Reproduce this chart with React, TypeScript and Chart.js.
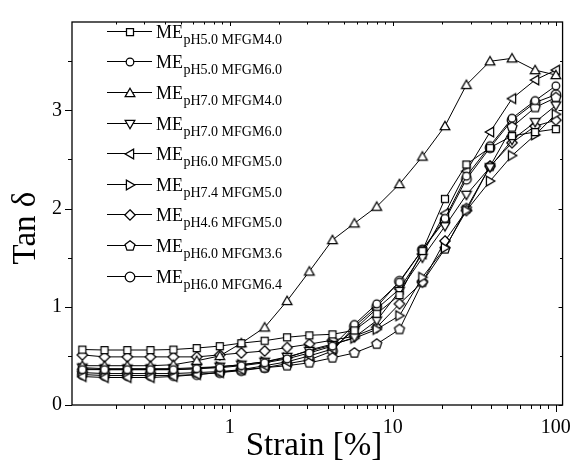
import React, { useEffect, useRef } from 'react';
import { Chart, registerables } from 'chart.js';
Chart.register(...registerables);

document.body.style.margin = '0';

// ---------- data ----------
const strain = [0.125, 0.171, 0.236, 0.327, 0.452, 0.628, 0.87, 1.18, 1.64, 2.25, 3.08, 4.27, 5.82, 7.98, 11.0, 15.2, 20.9, 28.3, 39.5, 53.9, 74.7, 100];

const phLabels = ['5.0', '5.0', '7.0', '7.0', '6.0', '7.4', '4.6', '6.0', '6.0'];
const mfgmLabels = ['4.0', '6.0', '4.0', '6.0', '5.0', '5.0', '5.0', '3.6', '6.4'];
const markerKinds = ['square', 'circle', 'triUp', 'triDown', 'triLeft', 'triRight', 'diamond', 'pentagon', 'circleBig'];

const pH50_MFGM40 = [0.565, 0.56, 0.56, 0.56, 0.565, 0.58, 0.60, 0.63, 0.655, 0.69, 0.71, 0.72, 0.76, 0.93, 1.12, 1.57, 2.10, 2.45, 2.62, 2.74, 2.78, 2.81];
const pH50_MFGM60 = [0.36, 0.36, 0.36, 0.36, 0.36, 0.37, 0.38, 0.40, 0.43, 0.47, 0.53, 0.60, 0.82, 1.03, 1.25, 1.58, 1.90, 2.33, 2.64, 2.92, 3.10, 3.25];
const pH70_MFGM40 = [0.40, 0.40, 0.40, 0.40, 0.41, 0.45, 0.50, 0.63, 0.79, 1.06, 1.36, 1.68, 1.85, 2.02, 2.25, 2.53, 2.84, 3.26, 3.50, 3.53, 3.41, 3.36];
const pH70_MFGM60 = [0.38, 0.37, 0.37, 0.37, 0.37, 0.38, 0.39, 0.41, 0.44, 0.49, 0.55, 0.61, 0.69, 0.86, 1.16, 1.50, 1.82, 2.14, 2.42, 2.70, 2.88, 3.05];
const pH60_MFGM50 = [0.29, 0.28, 0.28, 0.28, 0.29, 0.31, 0.33, 0.36, 0.40, 0.44, 0.50, 0.57, 0.77, 0.98, 1.18, 1.54, 1.95, 2.38, 2.78, 3.12, 3.31, 3.41];
const pH74_MFGM50 = [0.37, 0.36, 0.36, 0.36, 0.36, 0.37, 0.39, 0.41, 0.44, 0.48, 0.56, 0.62, 0.68, 0.77, 0.91, 1.30, 1.60, 1.98, 2.28, 2.54, 2.75, 2.96];
const pH46_MFGM50 = [0.51, 0.49, 0.49, 0.49, 0.49, 0.49, 0.51, 0.53, 0.55, 0.585, 0.62, 0.66, 0.70, 0.79, 1.03, 1.25, 1.67, 1.98, 2.43, 2.67, 2.84, 2.90];
const pH60_MFGM36 = [0.33, 0.32, 0.32, 0.32, 0.32, 0.33, 0.34, 0.36, 0.38, 0.40, 0.43, 0.48, 0.53, 0.62, 0.77, 1.25, 1.59, 2.00, 2.43, 2.83, 3.03, 3.13];
const pH60_MFGM64 = [0.31, 0.30, 0.30, 0.30, 0.30, 0.31, 0.33, 0.35, 0.38, 0.42, 0.46, 0.55, 0.80, 1.00, 1.26, 1.58, 1.88, 2.30, 2.62, 2.90, 3.08, 3.16];

const seriesValues = [pH50_MFGM40, pH50_MFGM60, pH70_MFGM40, pH70_MFGM60, pH60_MFGM50, pH74_MFGM50, pH46_MFGM50, pH60_MFGM36, pH60_MFGM64];

const xTickValues = [0.2, 0.3, 0.4, 0.5, 0.6, 0.7, 0.8, 0.9, 1, 2, 3, 4, 5, 6, 7, 8, 9, 10, 20, 30, 40, 50, 60, 70, 80, 90, 100];
const xMajorTicks = [1, 10, 100];
const yTickValues = [0, 0.5, 1, 1.5, 2, 2.5, 3, 3.5];

const FONT = '"Liberation Serif", "Times New Roman", serif';

// ---------- markers ----------
function makeMarker(kind: string): HTMLCanvasElement {
  const size = 16;
  const c = document.createElement('canvas');
  c.width = size;
  c.height = size;
  const ctx = c.getContext('2d')!;
  ctx.translate(size / 2, size / 2);
  const poly = (n: number, r: number, rot: number) => {
    ctx.beginPath();
    for (let i = 0; i < n; i++) {
      const a = -Math.PI / 2 + rot + (i * 2 * Math.PI) / n;
      const px = r * Math.cos(a);
      const py = r * Math.sin(a);
      if (i === 0) ctx.moveTo(px, py);
      else ctx.lineTo(px, py);
    }
    ctx.closePath();
  };
  switch (kind) {
    case 'square':
      ctx.beginPath();
      ctx.rect(-3.5, -3.5, 7, 7);
      break;
    case 'circle':
      ctx.beginPath();
      ctx.arc(0, 0, 3.8, 0, Math.PI * 2);
      break;
    case 'circleBig':
      ctx.beginPath();
      ctx.arc(0, 0, 4.8, 0, Math.PI * 2);
      break;
    case 'triUp':
      ctx.translate(0, 0.8);
      poly(3, 5.6, 0);
      break;
    case 'triDown':
      ctx.translate(0, -0.8);
      poly(3, 5.6, Math.PI);
      break;
    case 'triLeft':
      ctx.translate(0.8, 0);
      poly(3, 5.6, -Math.PI / 2);
      break;
    case 'triRight':
      ctx.translate(-0.8, 0);
      poly(3, 5.6, Math.PI / 2);
      break;
    case 'diamond':
      poly(4, 5.2, 0);
      break;
    case 'pentagon':
      poly(5, 5.2, 0);
      break;
  }
  ctx.fillStyle = '#ffffff';
  ctx.fill();
  ctx.lineWidth = 1.25;
  ctx.strokeStyle = '#000000';
  ctx.stroke();
  return c;
}

// ---------- custom frame / ticks / titles / legend ----------
const decorPlugin = {
  id: 'decor',
  afterDraw(chart: any) {
    const { ctx, chartArea: a, scales } = chart;
    const xs = scales.x;
    const ys = scales.y;
    ctx.save();
    ctx.strokeStyle = '#000';
    ctx.lineWidth = 1.3;
    ctx.strokeRect(a.left, a.top, a.right - a.left, a.bottom - a.top);
    ctx.lineWidth = 1;
    ctx.beginPath();
    for (const v of xTickValues) {
      const px = Math.round(xs.getPixelForValue(v)) + 0.5;
      if (px < a.left || px > a.right) continue;
      const major = xMajorTicks.includes(v);
      ctx.moveTo(px, a.bottom);
      ctx.lineTo(px, a.bottom + (major ? 7 : 4));
      ctx.moveTo(px, a.top);
      ctx.lineTo(px, a.top + (major ? 4 : 2.5));
    }
    for (const v of yTickValues) {
      const py = Math.round(ys.getPixelForValue(v)) + 0.5;
      const major = Number.isInteger(v);
      ctx.moveTo(a.left, py);
      ctx.lineTo(a.left - (major ? 7 : 4), py);
      ctx.moveTo(a.right, py);
      ctx.lineTo(a.right - (major ? 4 : 2.5), py);
    }
    ctx.stroke();

    // axis titles
    ctx.fillStyle = '#000';
    ctx.font = `33px ${FONT}`;
    ctx.textAlign = 'center';
    ctx.textBaseline = 'alphabetic';
    ctx.fillText('Strain [%]', 314, 455);
    ctx.save();
    ctx.translate(35, 228);
    ctx.rotate(-Math.PI / 2);
    ctx.fillText('Tan \u03b4', 0, 0);
    ctx.restore();

    // legend
    const lx0 = 107;
    const lx1 = 152;
    const y0 = 30.7;
    const dy = 30.6;
    chart.data.datasets.forEach((ds: any, i: number) => {
      const y = Math.round(y0 + i * dy) + 0.5;
      ctx.beginPath();
      ctx.lineWidth = 1;
      ctx.strokeStyle = '#000';
      ctx.moveTo(lx0, y);
      ctx.lineTo(lx1, y);
      ctx.stroke();
      const img = ds.pointStyle as HTMLCanvasElement;
      ctx.drawImage(img, Math.round((lx0 + lx1) / 2 - img.width / 2), Math.round(y - img.height / 2));
      ctx.textAlign = 'left';
      ctx.textBaseline = 'alphabetic';
      ctx.font = `18px ${FONT}`;
      ctx.fillText('ME', 156, y + 6);
      const w = ctx.measureText('ME').width;
      ctx.font = `14px ${FONT}`;
      ctx.fillText(`pH${phLabels[i]} MFGM${mfgmLabels[i]}`, 156 + w + 0.5, y + 12.5);
    });
    ctx.restore();
  },
};

export default function App() {
  const ref = useRef<HTMLCanvasElement | null>(null);
  useEffect(() => {
    if (!ref.current) return;
    const datasets = seriesValues.map((vals, i) => ({
      label: `ME pH${phLabels[i]} MFGM${mfgmLabels[i]}`,
      data: strain.map((x, j) => ({ x, y: vals[j] })),
      borderColor: '#000',
      borderWidth: 1,
      backgroundColor: '#fff',
      pointStyle: makeMarker(markerKinds[i]),
      pointRadius: 5,
      pointHoverRadius: 5,
      tension: 0,
      fill: false,
    }));
    const chart = new Chart(ref.current, {
      type: 'line',
      data: { datasets },
      options: {
        responsive: false,
        animation: false,
        parsing: false as any,
        layout: { padding: { left: 0, top: 7, right: 13, bottom: 0 } },
        plugins: { legend: { display: false }, tooltip: { enabled: false } },
        scales: {
          x: {
            type: 'logarithmic',
            min: 0.108,
            max: 110,
            grid: { display: false, drawTicks: false },
            border: { display: false },
            afterBuildTicks: (s: any) => {
              s.ticks = xTickValues.map((v) => ({ value: v }));
            },
            afterFit: (s: any) => {
              s.height = 61;
            },
            ticks: {
              autoSkip: false,
              maxRotation: 0,
              padding: 11,
              color: '#000',
              font: { family: FONT, size: 20 },
              callback: (v: any) => (xMajorTicks.includes(Number(v)) ? String(v) : ''),
            },
          },
          y: {
            type: 'linear',
            min: 0,
            max: 3.9,
            grid: { display: false, drawTicks: false },
            border: { display: false },
            afterBuildTicks: (s: any) => {
              s.ticks = yTickValues.map((v) => ({ value: v }));
            },
            afterFit: (s: any) => {
              s.width = 72;
            },
            ticks: {
              autoSkip: false,
              padding: 10,
              color: '#000',
              font: { family: FONT, size: 20 },
              callback: (v: any) => (Number.isInteger(Number(v)) ? String(v) : ''),
            },
          },
        },
      },
      plugins: [decorPlugin],
    });
    return () => chart.destroy();
  }, []);
  return <canvas ref={ref} width={582} height={466} style={{ display: 'block' }} />;
}
